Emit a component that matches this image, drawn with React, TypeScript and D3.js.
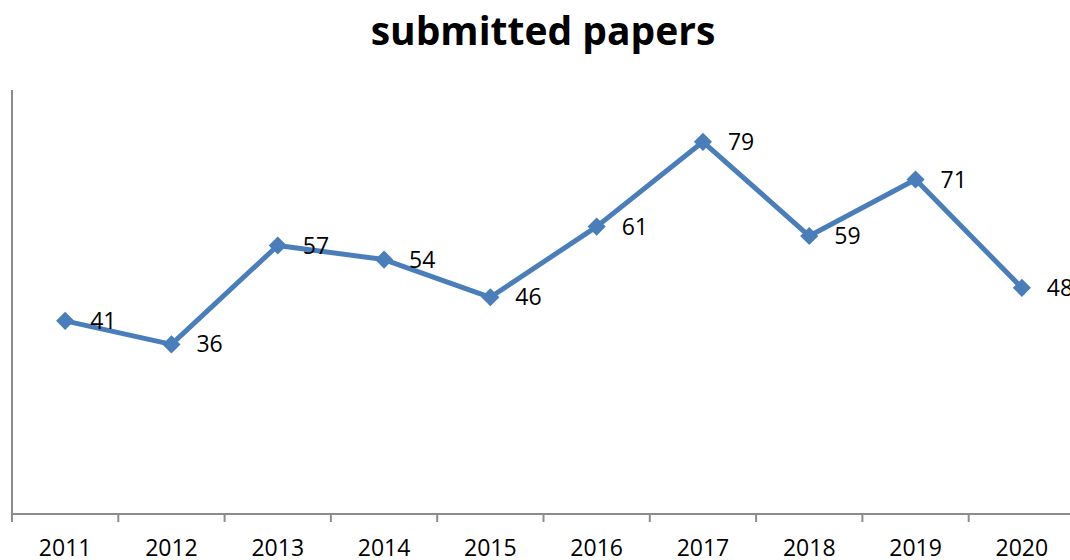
import React from "react";
import * as d3 from "d3";

const years = ["2011", "2012", "2013", "2014", "2015", "2016", "2017", "2018", "2019", "2020"];
const submitted = [41, 36, 57, 54, 46, 61, 79, 59, 71, 48];
const chartTitle = "submitted papers";

const W = 1070;
const H = 560;
const left = 12;
const right = 1075;
const top = 90;
const bottom = 514;
const color = "#4A7EBB";
const font = "'Open Sans', 'Liberation Sans', sans-serif";

export default function App() {
  const x = d3.scaleBand<string>().domain(years).range([left, right]);
  const y = d3.scaleLinear().domain([0, 90]).range([bottom, top]);
  const cx = (d: string) => (x(d) as number) + x.bandwidth() / 2;
  const line = d3
    .line<number>()
    .x((_, i) => cx(years[i]))
    .y((v) => y(v));
  const ticks = years.map((yr) => x(yr) as number).concat([right]);
  const diamond = d3.symbol(d3.symbolDiamond2 ?? d3.symbolDiamond, 210)();

  return (
    <svg
      width={W}
      height={H}
      style={{ position: "absolute", left: 0, top: 0, background: "#fff" }}
    >
      <text
        x={543}
        y={45}
        textAnchor="middle"
        fontFamily={font}
        fontWeight="bold"
        fontSize={39}
        fill="#000"
      >
        {chartTitle}
      </text>
      <line x1={left} x2={left} y1={top} y2={bottom} stroke="#8c8c8c" strokeWidth={2} />
      <line x1={left} x2={W} y1={bottom} y2={bottom} stroke="#8c8c8c" strokeWidth={2} />
      {ticks.map((t, i) => (
        <line key={i} x1={t} x2={t} y1={bottom} y2={bottom + 8} stroke="#8c8c8c" strokeWidth={2} />
      ))}
      {years.map((yr) => (
        <text
          key={yr}
          x={cx(yr)}
          y={556}
          textAnchor="middle"
          fontFamily={font}
          fontSize={23}
          fill="#000"
        >
          {yr}
        </text>
      ))}
      <path
        d={line(submitted) || ""}
        fill="none"
        stroke={color}
        strokeWidth={5}
        strokeLinejoin="round"
      />
      {submitted.map((v, i) => (
        <path
          key={i}
          d={diamond || ""}
          transform={`translate(${cx(years[i])},${y(v)})`}
          fill={color}
        />
      ))}
      {submitted.map((v, i) => (
        <text
          key={"l" + i}
          x={cx(years[i]) + 25}
          y={y(v)}
          dy="0.35em"
          fontFamily={font}
          fontSize={23}
          fill="#000"
        >
          {v}
        </text>
      ))}
    </svg>
  );
}
